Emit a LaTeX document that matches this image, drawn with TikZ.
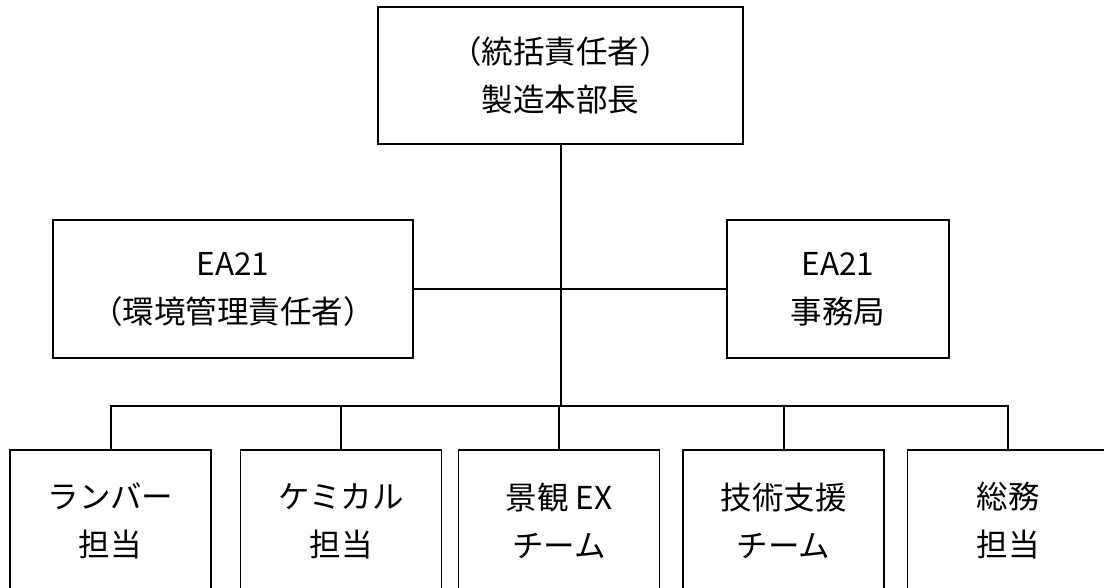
\documentclass[tikz,border=0pt]{standalone}
\usepackage{fontspec}
\setmainfont{Noto Sans CJK JP}
\begin{document}
\begin{tikzpicture}[x=1pt,y=-1pt,
  box/.style={draw, line width=1.8pt, rectangle, align=center, inner sep=0pt,
    font=\fontsize{31.5}{48}\selectfont},
  lowbox/.style={box, minimum width=201pt, minimum height=142pt},
  link/.style={line width=2pt}]
\useasboundingbox (0,0) rectangle (1104,588);
\clip (0,0) rectangle (1104,588);
\fill[white] (0,0) rectangle (1104,588);
\node[box, minimum width=365pt, minimum height=137pt] (top) at (560.5,75.5) {（統括責任者）\\製造本部長};
\node[box, minimum width=360pt, minimum height=138pt] (left) at (233,289) {EA21\\（環境管理責任者）};
\node[box, minimum width=222pt, minimum height=138pt] (right) at (838,289) {EA21\\事務局};
\node[lowbox] (b1) at (110.5,521) {ランバー\\担当};
\node[lowbox] (b2) at (341,521) {ケミカル\\担当};
\node[lowbox] (b3) at (559,521) {景観 EX\\チーム};
\node[lowbox] (b4) at (783.5,521) {技術支援\\チーム};
\node[lowbox] (b5) at (1008,521) {総務\\担当};
\coordinate (bus) at (560.5,406);
\draw[link] (top.south) -- (bus);
\draw[link] (left.east) -- (right.west);
\draw[link] (b1.north) -- (b1.north |- bus) -- (b5.north |- bus) -- (b5.north);
\draw[link] (b2.north) -- (b2.north |- bus);
\draw[link] (b3.north) -- (b3.north |- bus);
\draw[link] (b4.north) -- (b4.north |- bus);
\end{tikzpicture}
\end{document}
